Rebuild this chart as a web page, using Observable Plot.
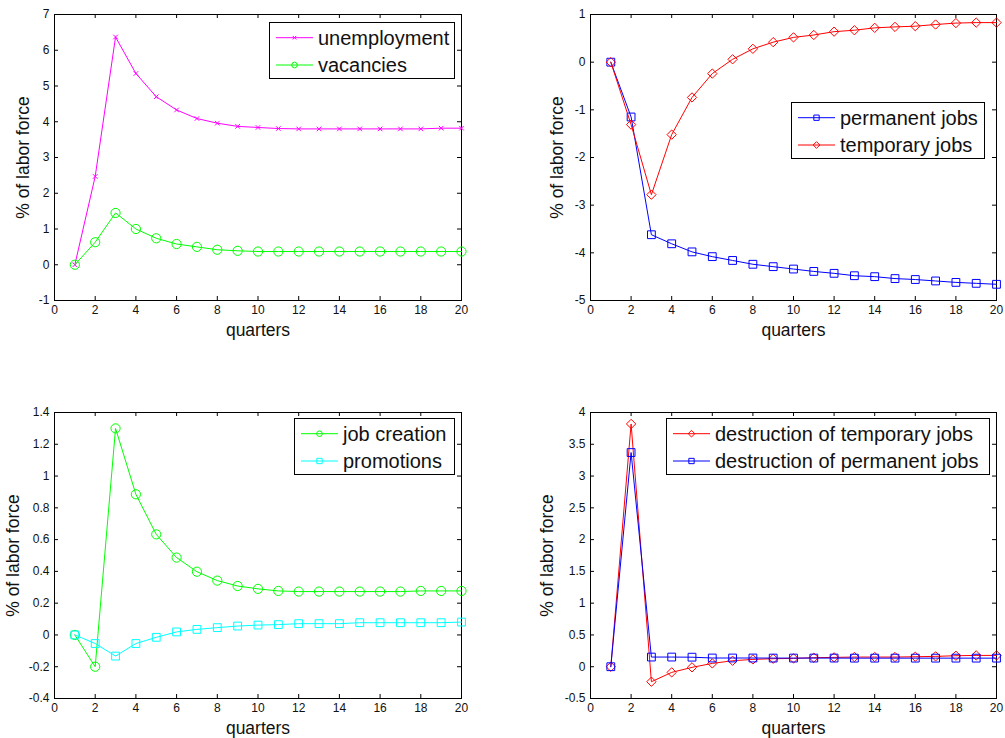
<!DOCTYPE html>
<html>
<head>
<meta charset="utf-8">
<script src="https://cdn.jsdelivr.net/npm/d3@7"></script>
<script src="https://cdn.jsdelivr.net/npm/@observablehq/plot@0.6"></script>
<style>
  html, body { margin: 0; padding: 0; background: #fff; }
  #root { position: relative; width: 1005px; height: 738px; background: #fff; overflow: hidden;
          font-family: "Liberation Sans", Arial, sans-serif; }
  .panel { position: absolute; }
  .legend { position: absolute; }
</style>
</head>
<body>
<div id="root"></div>
<script>
// ---------- data ----------
const quarters = [1, 2, 3, 4, 5, 6, 7, 8, 9, 10, 11, 12, 13, 14, 15, 16, 17, 18, 19, 20];
const xTicks = [0, 2, 4, 6, 8, 10, 12, 14, 16, 18, 20];

const unemployment = [0, 2.47, 6.37, 5.35, 4.70, 4.33, 4.09, 3.96, 3.87, 3.84, 3.81, 3.80, 3.80, 3.80, 3.80, 3.80, 3.80, 3.80, 3.82, 3.82];
const vacancies = [0, 0.63, 1.45, 1.00, 0.74, 0.58, 0.50, 0.42, 0.39, 0.37, 0.37, 0.37, 0.37, 0.37, 0.37, 0.37, 0.37, 0.37, 0.37, 0.37];

const permanentJobs = [0, -1.15, -3.62, -3.81, -3.98, -4.08, -4.16, -4.24, -4.29, -4.34, -4.39, -4.43, -4.48, -4.50, -4.54, -4.56, -4.59, -4.62, -4.64, -4.66];
const temporaryJobs = [0, -1.31, -2.78, -1.52, -0.74, -0.24, 0.06, 0.28, 0.42, 0.52, 0.57, 0.64, 0.67, 0.72, 0.74, 0.755, 0.79, 0.82, 0.83, 0.83];

const jobCreation = [0, -0.20, 1.30, 0.885, 0.633, 0.487, 0.398, 0.342, 0.308, 0.290, 0.277, 0.273, 0.273, 0.273, 0.273, 0.273, 0.273, 0.277, 0.277, 0.277];
const promotions = [0, -0.054, -0.133, -0.054, -0.015, 0.019, 0.035, 0.046, 0.056, 0.062, 0.065, 0.071, 0.071, 0.071, 0.077, 0.077, 0.077, 0.077, 0.077, 0.081];

const destructionTemporary = [0, 3.82, -0.236, -0.089, -0.01, 0.052, 0.094, 0.115, 0.126, 0.131, 0.142, 0.147, 0.152, 0.152, 0.152, 0.157, 0.163, 0.173, 0.178, 0.178];
const destructionPermanent = [0, 3.37, 0.152, 0.152, 0.150, 0.137, 0.137, 0.137, 0.136, 0.136, 0.136, 0.136, 0.135, 0.135, 0.135, 0.135, 0.135, 0.135, 0.135, 0.135];

const yTicks1 = [-1, 0, 1, 2, 3, 4, 5, 6, 7];
const yTicks2 = [-5, -4, -3, -2, -1, 0, 1];
const yTicks3 = [-0.4, -0.2, 0, 0.2, 0.4, 0.6, 0.8, 1, 1.2, 1.4];
const yTicks4 = [-0.5, 0, 0.5, 1, 1.5, 2, 2.5, 3, 3.5, 4];

const xLabel = "quarters";
const yLabel = "% of labor force";

// ---------- panels ----------
const FONT = '"Liberation Sans", Arial, sans-serif';
const panels = [
  { left: 0, top: 0, width: 500, height: 369, marginLeft: 54, marginRight: 39, marginTop: 14, marginBottom: 69,
    yDomain: [-1, 7], yTicks: yTicks1, yLabelDx: -31,
    series: [
      { name: "unemployment", values: unemployment, color: "#ff00ff", symbol: "times", r: 2.2, lr: 1.8 },
      { name: "vacancies", values: vacancies, color: "#00ff00", symbol: "circle", r: 4.6, lr: 2.8 }
    ],
    legend: { left: 269, top: 22, width: 186, height: 57 } },
  { left: 500, top: 0, width: 505, height: 369, marginLeft: 90, marginRight: 9, marginTop: 14, marginBottom: 69,
    yDomain: [-5, 1], yTicks: yTicks2, yLabelDx: -33,
    series: [
      { name: "permanent jobs", values: permanentJobs, color: "#0000ff", symbol: "square", r: 4.4, lr: 3.0 },
      { name: "temporary jobs", values: temporaryJobs, color: "#ff0000", symbol: "diamond2", r: 4.2, lr: 3.0 }
    ],
    legend: { left: 291, top: 102, width: 194, height: 57 } },
  { left: 0, top: 369, width: 500, height: 369, marginLeft: 54, marginRight: 39, marginTop: 43, marginBottom: 40,
    yDomain: [-0.4, 1.4], yTicks: yTicks3, yLabelDx: -41,
    series: [
      { name: "job creation", values: jobCreation, color: "#00ff00", symbol: "circle", r: 4.6, lr: 2.8 },
      { name: "promotions", values: promotions, color: "#00ffff", symbol: "square", r: 4.4, lr: 3.0 }
    ],
    legend: { left: 294, top: 49, width: 161, height: 57 } },
  { left: 500, top: 369, width: 505, height: 369, marginLeft: 90, marginRight: 9, marginTop: 43, marginBottom: 40,
    yDomain: [-0.5, 4], yTicks: yTicks4, yLabelDx: -43,
    series: [
      { name: "destruction of temporary jobs", values: destructionTemporary, color: "#ff0000", symbol: "diamond2", r: 4.2, lr: 3.0 },
      { name: "destruction of permanent jobs", values: destructionPermanent, color: "#0000ff", symbol: "square", r: 4.4, lr: 3.0 }
    ],
    legend: { left: 166, top: 49, width: 324, height: 57 } }
];

const root = document.getElementById("root");

for (const cfg of panels) {
  const H = cfg.height - cfg.marginTop - cfg.marginBottom;
  const W = cfg.width - cfg.marginLeft - cfg.marginRight;
  const marks = [
    Plot.tickX(xTicks, { x: d => d, insetTop: H - 4, stroke: "black" }),
    Plot.tickX(xTicks, { x: d => d, insetBottom: H - 4, stroke: "black" }),
    Plot.tickY(cfg.yTicks, { y: d => d, insetRight: W - 4, stroke: "black" }),
    Plot.tickY(cfg.yTicks, { y: d => d, insetLeft: W - 4, stroke: "black" }),
    Plot.axisX({ ticks: xTicks, tickSize: 0, tickPadding: 5, tickFormat: d => String(d), fontSize: 12, fill: "#111" }),
    Plot.axisY({ ticks: cfg.yTicks, tickSize: 0, tickPadding: 5, tickFormat: d => String(d), fontSize: 12, fill: "#111" }),
    Plot.frame({ stroke: "black", strokeWidth: 1 })
  ];
  for (const s of cfg.series) {
    marks.push(Plot.line(s.values, { x: (d, i) => quarters[i], y: d => d, stroke: s.color, strokeWidth: 1 }));
    marks.push(Plot.dot(s.values, { x: (d, i) => quarters[i], y: d => d, stroke: s.color, fill: "none",
      symbol: s.symbol, r: s.r, strokeWidth: 1 }));
  }
  marks.push(Plot.text([xLabel], { frameAnchor: "bottom", lineAnchor: "middle", textAnchor: "middle", dy: 30,
    fontSize: 17.5, fill: "#111", text: d => d }));
  marks.push(Plot.text([yLabel], { frameAnchor: "left", textAnchor: "middle", lineAnchor: "middle", dx: cfg.yLabelDx,
    rotate: -90, fontSize: 17.5, fill: "#111", text: d => d }));

  const chart = Plot.plot({
    width: cfg.width, height: cfg.height,
    marginLeft: cfg.marginLeft, marginRight: cfg.marginRight,
    marginTop: cfg.marginTop, marginBottom: cfg.marginBottom,
    x: { domain: [0, 20], label: null, axis: null },
    y: { domain: cfg.yDomain, label: null, axis: null },
    style: { fontFamily: FONT, background: "white", color: "black", overflow: "visible" },
    marks
  });
  const wrap = document.createElement("div");
  wrap.className = "panel";
  wrap.style.left = cfg.left + "px";
  wrap.style.top = cfg.top + "px";
  wrap.appendChild(chart);
  root.appendChild(wrap);

  // legend box
  const L = cfg.legend;
  const svg = d3.create("svg").attr("class", "legend")
    .attr("width", L.width).attr("height", L.height)
    .style("left", (cfg.left + L.left) + "px").style("top", (cfg.top + L.top) + "px")
    .style("position", "absolute").style("overflow", "visible");
  svg.append("rect").attr("x", 0.5).attr("y", 0.5).attr("width", L.width - 1).attr("height", L.height - 1)
    .attr("fill", "white").attr("stroke", "black").attr("stroke-width", 1);
  const symMap = { times: d3.symbolTimes, circle: d3.symbolCircle, square: d3.symbolSquare, diamond2: d3.symbolDiamond2 };
  cfg.series.forEach((s, i) => {
    const cy = 15.7 + i * 27.3;
    const g = svg.append("g");
    g.append("line").attr("x1", 7).attr("x2", 44).attr("y1", cy).attr("y2", cy)
      .attr("stroke", s.color).attr("stroke-width", 1);
    g.append("path").attr("transform", `translate(25.5,${cy})`)
      .attr("d", d3.symbol(symMap[s.symbol], Math.PI * s.lr * s.lr)())
      .attr("fill", "none").attr("stroke", s.color).attr("stroke-width", 1);
    g.append("text").attr("x", 49).attr("y", cy).attr("dy", "0.35em")
      .attr("font-family", FONT).attr("font-size", 20).attr("fill", "#111").text(s.name);
  });
  root.appendChild(svg.node());
}
</script>
</body>
</html>
